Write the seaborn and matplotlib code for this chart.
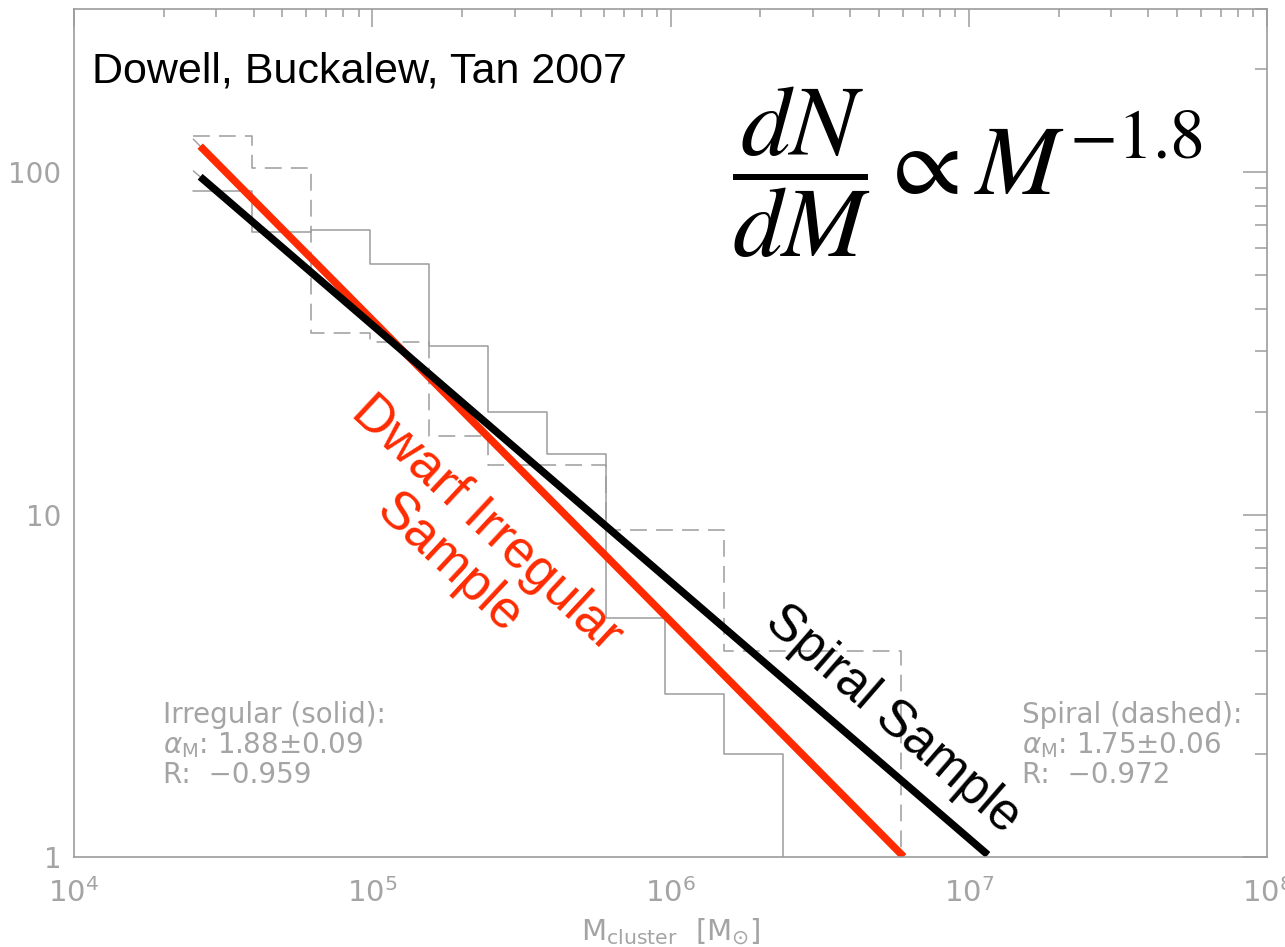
import matplotlib
matplotlib.use("Agg")
import matplotlib.pyplot as plt
import numpy as np
import pandas as pd
import seaborn as sns
from matplotlib.ticker import LogLocator, FuncFormatter, NullFormatter

# ---- cluster mass function histograms (log10 M_cluster bin edges, counts per bin) ----
log_edges_irregular = [4.400, 4.598, 4.795, 4.993, 5.191, 5.389, 5.586,
                       5.784, 5.982, 6.179, 6.377]
counts_irregular = [88, 67, 68, 54, 31, 20, 15, 5, 3, 2]

log_edges_spiral = [4.400, 4.598, 4.795, 4.993, 5.191, 5.389, 5.586,
                    5.784, 5.982, 6.179, 6.377, 6.575, 6.772]
counts_spiral = [128, 103, 34, 32, 17, 14, 14, 9, 9, 4, 4, 4]

# ---- power-law fits dN/dlogM ~ M^(1 - alpha) ----
alpha_irregular, alpha_irregular_err, r_irregular = 1.88, 0.09, -0.959
alpha_spiral, alpha_spiral_err, r_spiral = 1.75, 0.06, -0.972
fit_start_logm = 4.400
fit_norm_irregular = 125.0   # N at the first bin edge
fit_norm_spiral = 101.0
overlay_start_logm = 4.423
fit_end_logm_irregular = 6.782
fit_end_logm_spiral = 7.064

W, H = 1285, 947
GRAY = "#9c9c9c"
TXT_GRAY = "#a4a4a4"
RED = "#ff2a00"

sns.set_theme(style="white")
plt.rcParams["font.family"] = ["DejaVu Sans"]
plt.rcParams["mathtext.fontset"] = "dejavusans"

fig = plt.figure(figsize=(W / 100, H / 100), dpi=100)
fig.patch.set_facecolor("white")


def px(x, y):
    """pixel position (from top-left) -> figure fraction"""
    return x / W, 1 - y / H


left, top = px(74, 9)
right, bottom = px(1267, 857)
ax = fig.add_axes([left, bottom, right - left, top - bottom])
ax.set_facecolor("white")
ax.set_xscale("log")
ax.set_yscale("log")


def step_frame(log_edges, counts):
    x = [10 ** e for e in log_edges]
    y = list(counts) + [1.0]
    return pd.DataFrame({"mass": x, "n": y})


irr = step_frame(log_edges_irregular, counts_irregular)
spi = step_frame(log_edges_spiral, counts_spiral)

sns.lineplot(data=irr, x="mass", y="n", ax=ax, estimator=None, sort=False,
             drawstyle="steps-post", color=GRAY, linewidth=1.1)
sns.lineplot(data=spi, x="mass", y="n", ax=ax, estimator=None, sort=False,
             drawstyle="steps-post", color=GRAY, linewidth=1.1,
             linestyle=(0, (11, 6)))


def fit_line(norm, alpha, logm_a, logm_b):
    lm = np.array([logm_a, logm_b])
    n = norm * 10 ** ((1 - alpha) * (lm - fit_start_logm))
    return pd.DataFrame({"mass": 10 ** lm, "n": n})


# thin fit lines from the histogram analysis
for norm, alpha, end in [(fit_norm_irregular, alpha_irregular, fit_end_logm_irregular),
                         (fit_norm_spiral, alpha_spiral, fit_end_logm_spiral)]:
    sns.lineplot(data=fit_line(norm, alpha, fit_start_logm, end), x="mass", y="n",
                 ax=ax, estimator=None, sort=False, color=GRAY, linewidth=1.0)

# highlighted fits
sns.lineplot(data=fit_line(fit_norm_irregular, alpha_irregular, overlay_start_logm,
                           fit_end_logm_irregular),
             x="mass", y="n", ax=ax, estimator=None, sort=False,
             color=RED, linewidth=5.4, solid_capstyle="butt")
sns.lineplot(data=fit_line(fit_norm_spiral, alpha_spiral, overlay_start_logm,
                           fit_end_logm_spiral),
             x="mass", y="n", ax=ax, estimator=None, sort=False,
             color="black", linewidth=5.4, solid_capstyle="butt")

ax.set_xlim(1e4, 1e8)
ax.set_ylim(1, 300)

# ---- axes styling ----
for sp in ax.spines.values():
    sp.set_color(GRAY)
    sp.set_linewidth(1.2)
    sp.set_visible(True)

ax.xaxis.set_major_locator(LogLocator(base=10, numticks=10))
ax.xaxis.set_minor_locator(LogLocator(base=10, subs=np.arange(2, 10), numticks=20))
ax.yaxis.set_major_locator(LogLocator(base=10, numticks=10))
ax.yaxis.set_minor_locator(LogLocator(base=10, subs=np.arange(2, 10), numticks=20))
ax.yaxis.set_major_formatter(FuncFormatter(lambda v, p: f"{v:g}"))
ax.xaxis.set_minor_formatter(NullFormatter())
ax.yaxis.set_minor_formatter(NullFormatter())

ax.tick_params(axis="both", which="both", direction="in", top=True, right=True,
               color=GRAY, width=1.1, labelcolor=TXT_GRAY)
ax.tick_params(axis="x", which="major", length=13, labelsize=21, pad=15)
ax.tick_params(axis="x", which="minor", length=6)
ax.tick_params(axis="y", which="major", length=17, labelsize=20, pad=9)
ax.tick_params(axis="y", which="minor", length=9)

ax.set_xlabel(r"M$_{\rm cluster}$  $\left[\mathrm{M}_{\odot}\right]$",
              fontsize=21, color=TXT_GRAY, labelpad=6)
ax.set_ylabel("")

# ---- annotations ----
fig.text(*px(92, 82), "Dowell, Buckalew, Tan 2007", family="Liberation Sans",
         fontsize=31, color="black", ha="left", va="baseline")

fig.text(*px(732, 172), r"$\dfrac{dN}{dM} \propto M^{-1.8}$", math_fontfamily="stix",
         fontsize=72, color="black", ha="left", va="center")

fig.text(*px(468, 544), "Dwarf Irregular\nSample", family="Liberation Sans",
         fontsize=38, color=RED, ha="center", va="center", rotation=-43,
         rotation_mode="anchor", multialignment="center", linespacing=1.12)

fig.text(*px(893, 719), "Spiral Sample", family="Liberation Sans",
         fontsize=37, color="black", ha="center", va="center", rotation=-41,
         rotation_mode="anchor")


def fit_box(x0, title, alpha, err, r):
    lines = [title,
             r"$\alpha_{\rm M}$: " + f"{alpha:.2f}\u00b1{err:.2f}",
             "R:  \u2212" + f"{abs(r):.3f}"]
    for i, s in enumerate(lines):
        fig.text(*px(x0, 723 + 30 * i), s, fontsize=20, color=TXT_GRAY,
                 ha="left", va="baseline")


fit_box(163, "Irregular (solid):", alpha_irregular, alpha_irregular_err, r_irregular)
fit_box(1022, "Spiral (dashed):", alpha_spiral, alpha_spiral_err, r_spiral)

fig.savefig("out.png", dpi=100, facecolor="white")
